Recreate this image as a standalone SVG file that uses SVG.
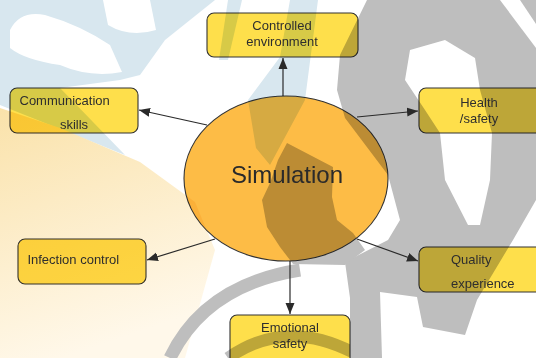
<svg xmlns="http://www.w3.org/2000/svg" width="536" height="358" viewBox="0 0 536 358">
<defs>
<style>
.box{fill:#FEDF4B;stroke:#333;stroke-width:1.1;mix-blend-mode:multiply}
.hub{fill:#FDBC46;stroke:#333;stroke-width:1.1;mix-blend-mode:multiply}
.t{font-family:"Liberation Sans",Arial,sans-serif;font-size:13px;fill:#2e2e2e}
.tm{text-anchor:middle}
.big{font-size:24px;fill:#2a2a2a}
.con{stroke:#2a2a2a;stroke-width:1.2;fill:none;marker-end:url(#ah)}
.gr{fill:#BEBEBE}
.bl{fill:#D8E7EF}
.wh{fill:#FFFFFF}
</style>
<marker id="ah" markerWidth="12" markerHeight="10" refX="11" refY="5" orient="auto" markerUnits="userSpaceOnUse">
<path d="M0,0.5 L11,5 L0,9.5 Z" fill="#2a2a2a"/>
</marker>
<linearGradient id="beige" x1="0" y1="0" x2="0.3" y2="1">
<stop offset="0" stop-color="#FAE2AA"/>
<stop offset="1" stop-color="#FFF8EA"/>
</linearGradient>
</defs>
<g id="background">
<rect x="0" y="0" width="536" height="358" fill="#FFFFFF"/>
<polygon class="bl" points="0,0 215,0 165,40 140,75 120,80 60,88 125,155 0,105"/>
<path class="wh" d="M10,30 Q20,10 45,15 Q80,25 110,45 L122,72 Q90,78 60,65 Q25,60 10,48 Z"/>
<path class="wh" d="M103,0 L150,0 L156,30 Q130,38 108,25 Z"/>
<polygon class="bl" points="228,0 242,0 228,60 219,60"/>
<polygon class="bl" points="290,0 318,0 305,100 270,165 256,148 248,100 280,57"/>
<polygon points="0,108 60,128 140,162 195,202 215,250 185,358 0,358" fill="url(#beige)"/>
<path class="gr" d="M367,0 L536,0 L536,200 L513,240 L477,300 L465,335 L423,327 L417,297 L380,292 L382,358 L350,358 L350,298 L345,262 L388,240 L400,220 L388,175 L345,118 L337,90 L340,55 Z"/>
<path class="wh" d="M410,50 L445,40 L475,58 L480,90 L492,133 L490,180 L480,225 L468,225 L445,180 L440,133 L425,110 L405,80 Z"/>
<polygon class="wh" points="500,0 520,0 536,24 536,48"/>
<polygon class="gr" points="287,143 333,167 332,197 337,220 353,233 365,250 345,265 293,264 280,247 267,227 262,200 270,183 278,160"/>
<path d="M170,358 Q205,285 300,270" stroke="#BEBEBE" stroke-width="13" fill="none"/>
<path d="M228,358 Q285,318 352,352" stroke="#BEBEBE" stroke-width="12" fill="none"/>
</g>
<g id="connectors">
<line class="con" x1="283" y1="96" x2="283" y2="58"/>
<line class="con" x1="207" y1="125" x2="139" y2="110"/>
<line class="con" x1="357" y1="117" x2="418" y2="111"/>
<line class="con" x1="215" y1="239" x2="147" y2="260"/>
<line class="con" x1="357" y1="239" x2="418" y2="261"/>
<line class="con" x1="290" y1="261" x2="290" y2="314"/>
</g>
<g id="simulation">
<ellipse class="hub" cx="286" cy="178.5" rx="102" ry="82.5"/>
<text class="t tm big" x="287" y="183">Simulation</text>
</g>
<g id="controlled-environment">
<rect class="box" x="207" y="13" width="151" height="44" rx="7"/>
<text class="t tm" x="282" y="30">Controlled</text>
<text class="t tm" x="282" y="46">environment</text>
</g>
<g id="communication-skills">
<rect class="box" x="10" y="88" width="128" height="45" rx="7"/>
<text class="t" x="19.5" y="105">Communication</text>
<text class="t tm" x="74" y="129">skills</text>
</g>
<g id="health-safety">
<rect class="box" x="419" y="88" width="130" height="45" rx="7"/>
<text class="t tm" x="479" y="107">Health</text>
<text class="t tm" x="479" y="123">/safety</text>
</g>
<g id="infection-control">
<rect class="box" x="18" y="239" width="128" height="45" rx="7"/>
<text class="t" x="27.4" y="264">Infection control</text>
</g>
<g id="quality-experience">
<rect class="box" x="419" y="247" width="130" height="45" rx="7"/>
<text class="t" x="451" y="264">Quality</text>
<text class="t" x="451" y="288">experience</text>
</g>
<g id="emotional-safety">
<rect class="box" x="230" y="315" width="120" height="50" rx="7"/>
<text class="t tm" x="290" y="332">Emotional</text>
<text class="t tm" x="290" y="348">safety</text>
</g>
</svg>
